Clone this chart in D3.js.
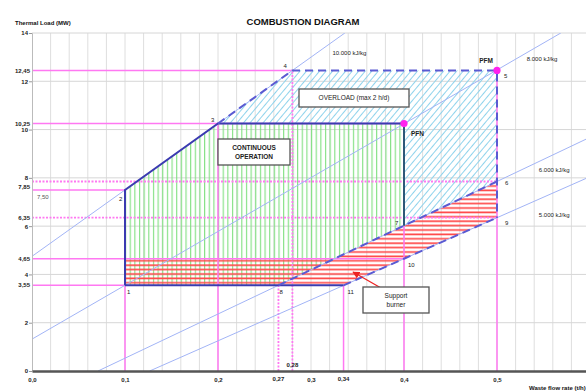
<!DOCTYPE html>
<html>
<head>
<meta charset="utf-8">
<script src="https://cdn.jsdelivr.net/npm/d3@7"></script>
<style>
  html, body { margin: 0; padding: 0; background: #fff; }
  svg { display: block; font-family: "Liberation Sans", Arial, sans-serif; }
</style>
</head>
<body>
<svg id="chart" width="586" height="391"></svg>
<script>
// Axis ticks: waste throughput (t/h) and thermal load (MW)
const xTicks = [0, 0.1, 0.2, 0.3, 0.4, 0.5];
const yTicks = [0, 2, 4, 6, 8, 10, 12, 14];

// Corner points of the firing diagram
const pointNames = ["1", "2", "3", "4", "5", "6", "7", "8", "9", "10", "11", "PFN"];
const pointX     = [0.1, 0.1, 0.2, 0.28, 0.5, 0.5, 0.4, 0.265, 0.5, 0.4, 0.335, 0.4];
const pointY     = [3.55, 7.5, 10.25, 12.45, 12.45, 7.85, 6.02, 3.55, 6.35, 4.65, 3.55, 10.25];

// Lines of constant calorific value: load = slope * (flow - flowAtZero)
const lhvNames      = ["10.000 kJ/kg", "8.000 kJ/kg", "6.000 kJ/kg", "5.000 kJ/kg"];
const lhvSlope      = [27.5, 22.3, 18.3, 17.0];
const lhvFlowAtZero = [-0.1727, -0.0592, 0.071, 0.1265];

// Operating zones, as sequences of corner points
const zoneNames = ["overload", "continuous", "support"];
const zoneOverload   = ["3", "4", "5", "6", "7", "PFN"];
const zoneContinuous = ["1", "2", "3", "PFN", "7", "8"];
const zoneSupport    = ["1", "11", "10", "9", "6", "*", "1^"];

// Guide lines from the axes to the corner points
const hGuidePoints = ["4", "PFN", "6", "2", "9", "10", "1"];
const vGuidePoints = ["1", "3", "8", "4", "11", "PFN", "5"];

// Firing-rate marks
const markNames  = ["PFN", "PFM"];
const markPoints = ["PFN", "5"];

const W = 586, H = 391;
const x = d3.scaleLinear().domain([0, 0.6]).range([32, 590]);
const y = d3.scaleLinear().domain([0, 14]).range([371, 33]);
const comma = (v, n) => v.toFixed(n).replace(".", ",");

const pt = {};
pointNames.forEach((n, i) => pt[n] = { x: pointX[i], y: pointY[i] });
// where the 6.000 kJ/kg line crosses the top of the support strip
const lhvFlow = (i, load) => lhvFlowAtZero[i] + load / lhvSlope[i];
pt["*"] = { x: lhvFlow(2, pt["10"].y), y: pt["10"].y };
pt["1^"] = { x: pt["1"].x, y: pt["10"].y };

const svg = d3.select("#chart");
const defs = svg.append("defs");
defs.append("clipPath").attr("id", "plotClip")
  .append("rect").attr("x", 32).attr("y", 33).attr("width", W - 32).attr("height", 338);

// hatch fills
const pGreen = defs.append("pattern").attr("id", "hatchGreen")
  .attr("patternUnits", "userSpaceOnUse").attr("x", 32).attr("width", 4.65).attr("height", 10);
pGreen.append("line").attr("x1", 0.6).attr("x2", 0.6).attr("y1", 0).attr("y2", 10)
  .attr("stroke", "#7fe07f").attr("stroke-width", 1.1);

const pBlue = defs.append("pattern").attr("id", "hatchBlue")
  .attr("patternUnits", "userSpaceOnUse").attr("width", 5).attr("height", 10)
  .attr("patternTransform", "rotate(40)");
pBlue.append("line").attr("x1", 0.5).attr("x2", 0.5).attr("y1", 0).attr("y2", 10)
  .attr("stroke", "#8fd3ec").attr("stroke-width", 1);

const pRed = defs.append("pattern").attr("id", "hatchRed")
  .attr("patternUnits", "userSpaceOnUse").attr("y", 0).attr("width", 10).attr("height", 4.4);
pRed.append("line").attr("x1", 0).attr("x2", 10).attr("y1", 1.2).attr("y2", 1.2)
  .attr("stroke", "#ff4a4a").attr("stroke-width", 1.7);

defs.append("marker").attr("id", "arrowRed").attr("viewBox", "0 0 10 10")
  .attr("refX", 9).attr("refY", 5).attr("markerWidth", 6).attr("markerHeight", 6)
  .attr("orient", "auto-start-reverse")
  .append("path").attr("d", "M0,0 L10,5 L0,10 z").attr("fill", "#ee2222");

// grid
const grid = svg.append("g");
grid.selectAll("line.v").data(d3.range(1, 30).map(i => i * 0.02)).join("line")
  .attr("x1", d => x(d)).attr("x2", d => x(d)).attr("y1", y(14)).attr("y2", y(0))
  .attr("stroke", "#dedede").attr("stroke-width", 1);
grid.selectAll("line.h").data(yTicks.filter(d => d > 0)).join("line")
  .attr("x1", x(0)).attr("x2", W).attr("y1", d => y(d)).attr("y2", d => y(d))
  .attr("stroke", "#d6d6d6").attr("stroke-width", 1);

const plot = svg.append("g").attr("clip-path", "url(#plotClip)");
const poly = names => names.map(n => [x(pt[n].x), y(pt[n].y)]);
const lineGen = d3.line();

// zones
const zoneFill = { overload: "url(#hatchBlue)", continuous: "url(#hatchGreen)", support: "url(#hatchRed)" };
const zones = { overload: zoneOverload, continuous: zoneContinuous, support: zoneSupport };
zoneNames.forEach(z => {
  plot.append("path").attr("d", lineGen(poly(zones[z])) + "Z")
    .attr("fill", zoneFill[z]).attr("stroke", "none");
});

// guide lines
const dottedH = new Set(["6", "9"]);
const dottedV = new Set(["8", "4"]);
plot.selectAll("line.hg").data(hGuidePoints).join("line")
  .attr("x1", x(0)).attr("x2", d => x(pt[d].x))
  .attr("y1", d => y(pt[d].y)).attr("y2", d => y(pt[d].y))
  .attr("stroke", "#ff78f2").attr("stroke-width", d => dottedH.has(d) ? 1.8 : 1.5)
  .attr("stroke-dasharray", d => dottedH.has(d) ? "2,1.5" : null);
plot.selectAll("line.vg").data(vGuidePoints).join("line")
  .attr("x1", d => x(pt[d].x)).attr("x2", d => x(pt[d].x))
  .attr("y1", y(0)).attr("y2", d => y(pt[d].y))
  .attr("stroke", "#ff78f2").attr("stroke-width", d => dottedV.has(d) ? 1.8 : 1.5)
  .attr("stroke-dasharray", d => dottedV.has(d) ? "2,1.5" : null);

// calorific value lines
lhvNames.forEach((name, i) => {
  const x0 = Math.max(0, lhvFlowAtZero[i]);
  const x1 = Math.min(0.6, lhvFlow(i, 14));
  plot.append("line")
    .attr("x1", x(x0)).attr("y1", y(lhvSlope[i] * (x0 - lhvFlowAtZero[i])))
    .attr("x2", x(x1)).attr("y2", y(lhvSlope[i] * (x1 - lhvFlowAtZero[i])))
    .attr("stroke", "#a2b4f6").attr("stroke-width", 1);
});

// zone boundaries
const solidRuns = [["1", "2", "3", "PFN"], ["1", "11"]];
const dashedRuns = [["3", "4", "5", "6", "9"], ["8", "7", "6"], ["11", "10", "9"]];
solidRuns.forEach(r => plot.append("path").attr("d", lineGen(poly(r)))
  .attr("fill", "none").attr("stroke", "#3b3bb0").attr("stroke-width", 2));
plot.append("path").attr("d", lineGen(poly(["PFN", "7"])))
  .attr("fill", "none").attr("stroke", "#2d5878").attr("stroke-width", 2);
dashedRuns.forEach(r => plot.append("path").attr("d", lineGen(poly(r)))
  .attr("fill", "none").attr("stroke", "#5a5ad2").attr("stroke-width", 2)
  .attr("stroke-dasharray", "8,5"));

// firing-rate marks
svg.selectAll("circle.mark").data(markPoints).join("circle")
  .attr("cx", d => x(pt[d].x)).attr("cy", d => y(pt[d].y)).attr("r", 3.6)
  .attr("fill", "#ff22ee");
const markOffset = { PFN: [7, 12, "start"], PFM: [-4, -7, "end"] };
markNames.forEach((m, i) => {
  const p = pt[markPoints[i]];
  svg.append("text").attr("x", x(p.x) + markOffset[m][0]).attr("y", y(p.y) + markOffset[m][1])
    .attr("text-anchor", markOffset[m][2]).attr("font-size", 6.5).attr("font-weight", "bold")
    .attr("fill", "#222").text(m);
});

// point numbers
const numOffset = {
  "1": [2, 9], "2": [-6, 11], "3": [-7, -2], "4": [-9, -2], "5": [7, 8], "6": [8, 4],
  "7": [-9, -1], "8": [1, 9], "9": [8, 7], "10": [4, 8], "11": [4, 9]
};
Object.keys(numOffset).forEach(n => {
  svg.append("text").attr("x", x(pt[n].x) + numOffset[n][0]).attr("y", y(pt[n].y) + numOffset[n][1])
    .attr("font-size", 6).attr("fill", "#222").text(n);
});

// calorific value labels
const lhvLabelFlow = [0.323, 0.532, 0.545, 0.545];
const lhvLabelDrop = [0, 0.35, 0.45, 0.75];
lhvNames.forEach((name, i) => {
  const fx = lhvLabelFlow[i];
  const ly = i === 0 ? 13.1 : lhvSlope[i] * (fx - lhvFlowAtZero[i]) - lhvLabelDrop[i];
  svg.append("text").attr("x", x(fx)).attr("y", y(ly))
    .attr("font-size", 6).attr("fill", "#222").text(name);
});

// y axis
const yAxis = svg.append("g").attr("transform", `translate(${x(0)},0)`)
  .call(d3.axisLeft(y).tickValues(yTicks).tickSize(3).tickFormat(d => d));
yAxis.select(".domain").attr("stroke", "#bbb");
yAxis.selectAll(".tick line").attr("stroke", "#999");
yAxis.selectAll(".tick text").attr("font-size", 6).attr("font-weight", "bold")
  .attr("font-family", "Liberation Sans, Arial, sans-serif").attr("fill", "#222").attr("x", -4);

// x axis
const xAxis = svg.append("g").attr("transform", `translate(0,${y(0)})`)
  .call(d3.axisBottom(x).tickValues(xTicks).tickSize(0).tickFormat(d => comma(d, 1)));
xAxis.select(".domain").attr("stroke", "#555").attr("stroke-width", 2.6);
xAxis.selectAll(".tick text").attr("font-size", 6).attr("font-weight", "bold")
  .attr("font-family", "Liberation Sans, Arial, sans-serif").attr("fill", "#222").attr("y", 7);

// guide values on the axes
const hLabelInside = new Set(["2"]);
const hLabelShift = { "6": 5 };
hGuidePoints.forEach(n => {
  const v = pt[n].y;
  if (hLabelInside.has(n)) {
    svg.append("text").attr("x", x(0) + 5).attr("y", y(v) + 9)
      .attr("font-size", 6).attr("fill", "#555").text(comma(v, 2));
  } else {
    svg.append("text").attr("x", x(0) - 2).attr("y", y(v) + (hLabelShift[n] || 0)).attr("dy", "0.35em")
      .attr("text-anchor", "end").attr("font-size", 6).attr("font-weight", "bold")
      .attr("fill", "#222").text(comma(v, 2));
  }
});
const vLabelRaised = new Set(["4"]);
["8", "4", "11"].forEach(n => {
  const v = pt[n].x;
  svg.append("text").attr("x", x(v)).attr("y", vLabelRaised.has(n) ? y(0) - 4 : y(0) + 10)
    .attr("text-anchor", "middle").attr("font-size", 6).attr("font-weight", "bold")
    .attr("fill", "#222").text(comma(v, 2));
});

// zone captions
function caption(cx, cy, w, h, lines, weight) {
  svg.append("rect").attr("x", cx - w / 2).attr("y", cy - h / 2).attr("width", w).attr("height", h)
    .attr("fill", "#fff").attr("stroke", "#555").attr("stroke-width", 1.3);
  lines.forEach((t, i) => {
    svg.append("text").attr("x", cx).attr("y", cy + (i - (lines.length - 1) / 2) * 9).attr("dy", "0.35em")
      .attr("text-anchor", "middle").attr("font-size", 6.5).attr("font-weight", weight)
      .attr("fill", "#222").text(t);
  });
}
caption(354, 98, 110, 18, ["OVERLOAD (max 2 h/d)"], "normal");
caption(254, 152, 72, 26, ["CONTINUOUS", "OPERATION"], "bold");
svg.append("line").attr("x1", 381).attr("y1", 288).attr("x2", 353).attr("y2", 272)
  .attr("stroke", "#ee2222").attr("stroke-width", 1.2).attr("marker-end", "url(#arrowRed)");
caption(396, 300, 66, 26, ["Support", "burner"], "normal");

// titles
svg.append("text").attr("x", 303).attr("y", 25).attr("text-anchor", "middle")
  .attr("font-size", 9.5).attr("font-weight", "bold").attr("fill", "#111").text("COMBUSTION DIAGRAM");
svg.append("text").attr("x", 15).attr("y", 25)
  .attr("font-size", 6).attr("font-weight", "bold").attr("fill", "#111").text("Thermal Load (MW)");
svg.append("text").attr("x", 529).attr("y", 390)
  .attr("font-size", 6).attr("font-weight", "bold").attr("fill", "#111").text("Waste flow rate (t/h)");
</script>
</body>
</html>
